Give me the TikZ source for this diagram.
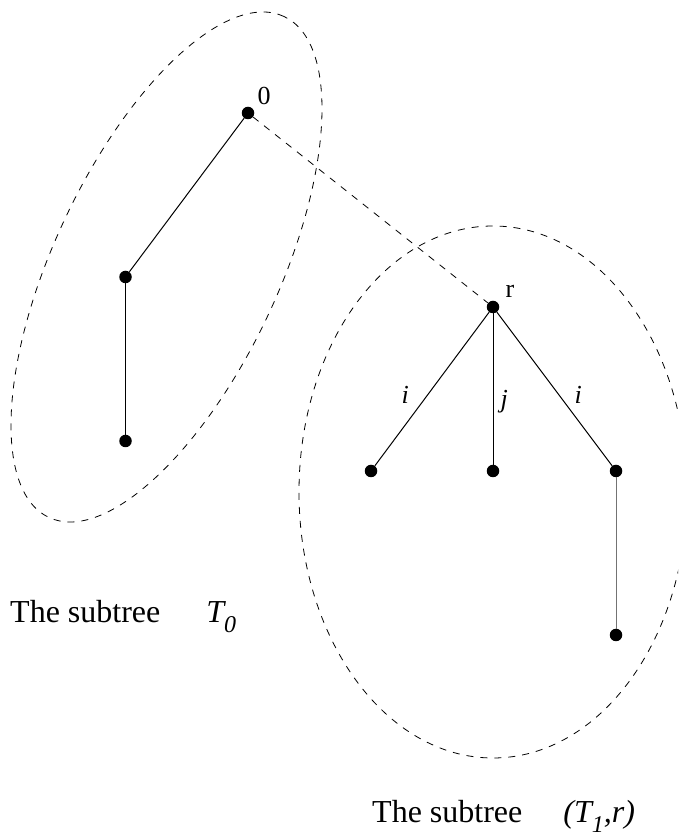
\documentclass[tikz,border=0pt]{standalone}
\usepackage{fontspec}
\setmainfont{Liberation Serif}
\usepackage{tikz}
\usetikzlibrary{positioning, calc}

% lowered, smaller index as printed under T
\newcommand{\lowsub}[1]{\raisebox{-10pt}{\fontsize{24}{24}\selectfont #1}}

\begin{document}
\begin{tikzpicture}[
        x=1pt, y=1pt,
        % Style for the tree vertices
        vertex/.style={
            circle,
            fill=black,
            inner sep=0pt,
            minimum size=12.5pt
        },
        % Style for the vertex names
        vname/.style={font=\fontsize{26}{26}\selectfont, inner sep=0pt},
        % Style for the edge labels
        elabel/.style={font=\fontsize{26}{26}\selectfont\itshape, inner sep=2pt},
        % Style for the tree edges
        branch/.style={line width=1pt},
        % Style for the dashed hulls and the link
        hull/.style={line width=0.8pt, dash pattern=on 7pt off 7pt},
        % Style for the captions
        subcap/.style={font=\fontsize{32}{32}\selectfont, inner sep=0pt, anchor=base west}
    ]

        \useasboundingbox (0,0) rectangle (678,838);
        \clip (0,0) rectangle (678,838);

        % 1. Subtree T_0
        \node[vertex] (n0) at (248,725) {};
        \node[vertex] (a) at (125.5,561) {};
        \node[vertex] (b) at (125.5,397) {};
        \node[vname] (lab0) at (264,742) {0};

        \draw[branch] (n0) -- (a);
        \draw[branch] (a) -- (b);

        % 2. Subtree (T_1,r)
        \node[vertex] (r) at (493,531) {};
        \node[vertex] (c1) at (371,367) {};
        \node[vertex] (c2) at (493,367) {};
        \node[vertex] (c3) at (616,367) {};
        \node[vertex] (c4) at (616,203) {};
        \node[vname] (labr) at (510,547) {r};

        \draw[branch] (r) -- node[elabel, pos=0.54, left=16pt] (li) {i} (c1);
        \draw[branch] (r) -- node[elabel, pos=0.585, right=5pt] (lj) {j} (c2);
        \draw[branch] (r) -- node[elabel, pos=0.54, right=13pt] (ri) {i} (c3);
        \draw[branch, black!55] (c3) -- (c4);

        % Hulls and the dashed link between the roots
        \draw[hull, rotate around={64.85:(166.5,571)}] (166.5,571) ellipse [x radius=276.7pt, y radius=112.4pt];
        \draw[hull] (493,346) ellipse [x radius=194pt, y radius=266pt];
        \draw[hull] (n0) -- (r);

        % Captions
        \node[subcap] (cap0) at (10,215) {The subtree\hspace{46pt}\textit{T\lowsub{0}}};
        \node[subcap] (cap1) at (372,16) {The subtree\hspace{41pt}\textit{(T\lowsub{1},r)}};

    \end{tikzpicture}
\end{document}
